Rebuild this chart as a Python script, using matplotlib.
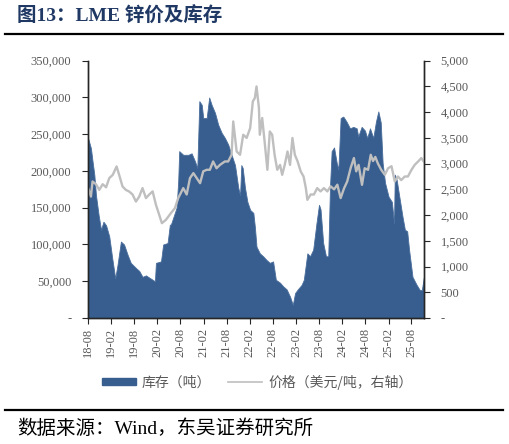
import numpy as np
import pandas as pd
import matplotlib
matplotlib.use("Agg")
import matplotlib.pyplot as plt
from matplotlib.ticker import FuncFormatter, MultipleLocator
from matplotlib.patches import Patch
from matplotlib.lines import Line2D

# ----- data -----
inv_dates = [
    "2018-08-01", "2018-08-24", "2018-09-06", "2018-09-20", "2018-10-03", "2018-10-24",
    "2018-11-12", "2018-12-01", "2018-12-22", "2019-01-16", "2019-02-08", "2019-03-04",
    "2019-03-22", "2019-04-18", "2019-05-13", "2019-06-10", "2019-07-05", "2019-08-15",
    "2019-09-10", "2019-10-06", "2019-11-02", "2019-11-28", "2019-12-25", "2020-01-12",
    "2020-01-20", "2020-02-29", "2020-03-17", "2020-04-21", "2020-05-09", "2020-05-17",
    "2020-07-01", "2020-07-14", "2020-07-22", "2020-08-23", "2020-10-02", "2020-10-28",
    "2020-11-24", "2020-12-12", "2020-12-28", "2021-01-16", "2021-01-28", "2021-02-24",
    "2021-03-16", "2021-04-04", "2021-05-01", "2021-05-26", "2021-06-22", "2021-07-18",
    "2021-08-13", "2021-09-09", "2021-10-06", "2021-11-01", "2021-11-15", "2021-11-25",
    "2021-12-06", "2021-12-24", "2022-01-12", "2022-02-03", "2022-02-28", "2022-03-12",
    "2022-03-25", "2022-04-20", "2022-05-16", "2022-06-12", "2022-07-08", "2022-08-03",
    "2022-08-25", "2022-09-27", "2022-10-22", "2022-11-18", "2022-12-15", "2023-01-06",
    "2023-01-24", "2023-02-19", "2023-03-16", "2023-04-03", "2023-05-01", "2023-05-22",
    "2023-06-16", "2023-07-12", "2023-08-01", "2023-08-13", "2023-09-03", "2023-09-25",
    "2023-10-13", "2023-10-27", "2023-11-09", "2023-11-28", "2023-12-19", "2024-01-01",
    "2024-01-19", "2024-02-09", "2024-03-06", "2024-04-02", "2024-04-28", "2024-05-25",
    "2024-06-06", "2024-07-03", "2024-07-29", "2024-08-16", "2024-09-07", "2024-10-03",
    "2024-10-24", "2024-11-12", "2024-12-01", "2024-12-16", "2025-01-04", "2025-02-01",
    "2025-02-27", "2025-03-16", "2025-03-22", "2025-04-06", "2025-04-27", "2025-05-22",
    "2025-06-10", "2025-06-28", "2025-07-13", "2025-08-09", "2025-09-11", "2025-10-06",
    "2025-10-22", "2025-11-06",
]
inv_values = [
    245000, 231000, 213000, 195000, 167000, 140000,
    120000, 131000, 126000, 111000, 82000, 54000,
    72000, 104000, 100000, 86000, 75000, 68000,
    64000, 56000, 58000, 55000, 52000, 50000,
    75000, 77000, 100000, 102000, 127000, 127000,
    150000, 186000, 227000, 222000, 222000, 224000,
    213000, 204000, 295000, 290000, 272000, 272000,
    300000, 290000, 279000, 263000, 252000, 245000,
    236000, 222000, 208000, 177000, 167000, 208000,
    204000, 177000, 158000, 147000, 143000, 124000,
    97000, 88000, 84000, 79000, 75000, 77000,
    52000, 48000, 43000, 39000, 29000, 18000,
    34000, 40000, 45000, 52000, 88000, 84000,
    93000, 129000, 154000, 148000, 102000, 84000,
    84000, 179000, 227000, 232000, 211000, 202000,
    272000, 274000, 267000, 258000, 260000, 258000,
    247000, 260000, 255000, 245000, 258000, 245000,
    267000, 281000, 266000, 211000, 184000, 165000,
    158000, 129000, 195000, 188000, 165000, 138000,
    120000, 118000, 93000, 56000, 45000, 38000,
    38000, 55000,
]

px_dates = [
    "2018-08-01", "2018-08-24", "2018-09-06", "2018-10-03", "2018-10-29", "2018-11-25",
    "2018-12-22", "2019-01-16", "2019-02-13", "2019-03-15", "2019-04-04", "2019-05-01",
    "2019-05-27", "2019-06-22", "2019-07-19", "2019-08-15", "2019-09-10", "2019-10-06",
    "2019-11-02", "2019-11-28", "2019-12-25", "2020-01-20", "2020-02-15", "2020-03-07",
    "2020-04-08", "2020-05-17", "2020-06-18", "2020-07-14", "2020-08-23", "2020-09-19",
    "2020-10-15", "2020-11-11", "2020-12-07", "2021-01-03", "2021-01-28", "2021-02-24",
    "2021-03-21", "2021-04-16", "2021-05-13", "2021-06-09", "2021-07-18", "2021-08-13",
    "2021-09-09", "2021-09-22", "2021-10-19", "2021-11-15", "2021-12-10", "2022-01-06",
    "2022-02-03", "2022-02-24", "2022-03-12", "2022-03-25", "2022-04-13", "2022-04-20",
    "2022-05-09", "2022-05-28", "2022-06-19", "2022-07-08", "2022-07-27", "2022-08-15",
    "2022-09-05", "2022-09-27", "2022-10-14", "2022-11-03", "2022-11-25", "2022-12-15",
    "2023-01-03", "2023-01-22", "2023-02-13", "2023-03-10", "2023-04-01", "2023-04-19",
    "2023-05-01", "2023-05-27", "2023-06-22", "2023-07-18", "2023-08-13", "2023-09-09",
    "2023-10-06", "2023-11-01", "2023-11-28", "2023-12-24", "2024-01-19", "2024-02-15",
    "2024-03-11", "2024-04-07", "2024-05-03", "2024-05-21", "2024-06-09", "2024-07-06",
    "2024-07-27", "2024-08-23", "2024-09-13", "2024-10-01", "2024-10-19", "2024-11-09",
    "2024-12-05", "2025-01-02", "2025-01-28", "2025-02-24", "2025-03-22", "2025-04-16",
    "2025-05-12", "2025-06-09", "2025-07-04", "2025-08-01", "2025-08-27", "2025-09-22",
    "2025-10-18", "2025-11-06",
]
px_values = [
    2530, 2360, 2653, 2600, 2490, 2600,
    2540, 2718, 2783, 2945, 2783, 2555,
    2490, 2458, 2400, 2263, 2360, 2524,
    2330, 2400, 2460, 2200, 2005, 1843,
    1908, 2037, 2135, 2330, 2524, 2400,
    2718, 2815, 2720, 2620, 2850, 2880,
    2880, 3042, 2910, 2975, 3042, 3042,
    3172, 3820, 3236, 3172, 3561, 3500,
    3690, 4210, 4275, 4500, 4086, 3561,
    3886, 3430, 2880, 3625, 3560, 3172,
    2880, 2975, 2783, 2975, 3236, 2975,
    3497, 3172, 3042, 2845, 2750, 2524,
    2296, 2400, 2400, 2524, 2460, 2524,
    2460, 2560, 2500, 2590, 2330, 2520,
    2653, 2913, 3108, 2850, 2975, 2588,
    2910, 2880, 3172, 3050, 3130, 3000,
    2880, 2783, 2910, 2950, 2653, 2750,
    2680, 2750, 2750, 2880, 2977, 3040,
    3108, 3040,
]

tick_months = ["18-08", "19-02", "19-08", "20-02", "20-08", "21-02", "21-08", "22-02",
               "22-08", "23-02", "23-08", "24-02", "24-08", "25-02", "25-08"]

title = "图13：LME 锌价及库存"
source = "数据来源：Wind，东吴证券研究所"
inv_label = "库存（吨）"
px_label = "价格（美元/吨，右轴）"

# ----- style -----
BLUE = "#375E8F"
GREY_LINE = "#BFBFBF"
GREY_TXT = "#595959"
NAVY = "#1F3864"
SERIF = ["Liberation Serif", "Noto Sans CJK SC"]
CJK = ["Noto Sans CJK SC", "DejaVu Sans"]

plt.rcParams["font.family"] = SERIF

fig = plt.figure(figsize=(5.09, 4.44), dpi=100)
ax = fig.add_axes([88 / 509, 1 - 318 / 444, (424 - 88) / 509, (318 - 60.7) / 444])
ax2 = ax.twinx()

inv_x = pd.to_datetime(inv_dates)
px_x = pd.to_datetime(px_dates)

ax.fill_between(inv_x, 0, inv_values, color=BLUE, linewidth=0.6, edgecolor="#4A6E9C")
ax2.plot(px_x, px_values, color=GREY_LINE, lw=1.7)

ax.set_xlim(pd.Timestamp("2018-08-01"), pd.Timestamp("2025-11-08"))
ax.set_ylim(0, 350000)
ax2.set_ylim(0, 5000)
ax.yaxis.set_major_locator(MultipleLocator(50000))
ax2.yaxis.set_major_locator(MultipleLocator(500))


def dash_zero(v, _):
    return "-" if abs(v) < 1e-9 else f"{v:,.0f}"


ax.yaxis.set_major_formatter(FuncFormatter(dash_zero))
ax2.yaxis.set_major_formatter(FuncFormatter(dash_zero))

ticks = [pd.Timestamp("20" + t[:2] + "-" + t[3:] + "-01") for t in tick_months]
ax.set_xticks(ticks)
ax.set_xticklabels(tick_months, rotation=90)

for a in (ax, ax2):
    a.spines["top"].set_visible(False)
    for s in ("left", "right", "bottom"):
        a.spines[s].set_color("#262626")
        a.spines[s].set_linewidth(1.0)
    a.tick_params(axis="both", direction="out", length=4, width=0.8, color="#262626",
                  labelsize=9, labelcolor=GREY_TXT)
ax.tick_params(axis="y", pad=8)
ax2.tick_params(axis="y", pad=8)
ax.tick_params(axis="x", pad=3)

handles = [Patch(facecolor=BLUE, edgecolor=BLUE),
           Line2D([0], [0], color=GREY_LINE, lw=1.2)]
leg = fig.legend(handles, [inv_label, px_label], loc="center",
                 bbox_to_anchor=(0.505, 1 - 382 / 444), ncol=2, frameon=False,
                 handlelength=2.45, handleheight=0.4, columnspacing=1.2, handletextpad=0.45,
                 prop={"family": CJK, "size": 10})
for t in leg.get_texts():
    t.set_color(GREY_TXT)

# title, rules, source
fig.text(17 / 509, 1 - 16 / 444, title, ha="left", va="center", fontsize=14,
         fontweight="bold", color=NAVY, family=["Liberation Serif", "Noto Sans CJK SC"])
fig.add_artist(Line2D([5 / 509, 503 / 509], [1 - 34 / 444] * 2, color="black", lw=1.6))
fig.add_artist(Line2D([5 / 509, 503 / 509], [1 - 410 / 444] * 2, color="black", lw=1.6))
fig.text(17 / 509, 1 - 429 / 444, source, ha="left", va="center", fontsize=14,
         color="black", family=SERIF)

fig.savefig("out.png", dpi=100)
